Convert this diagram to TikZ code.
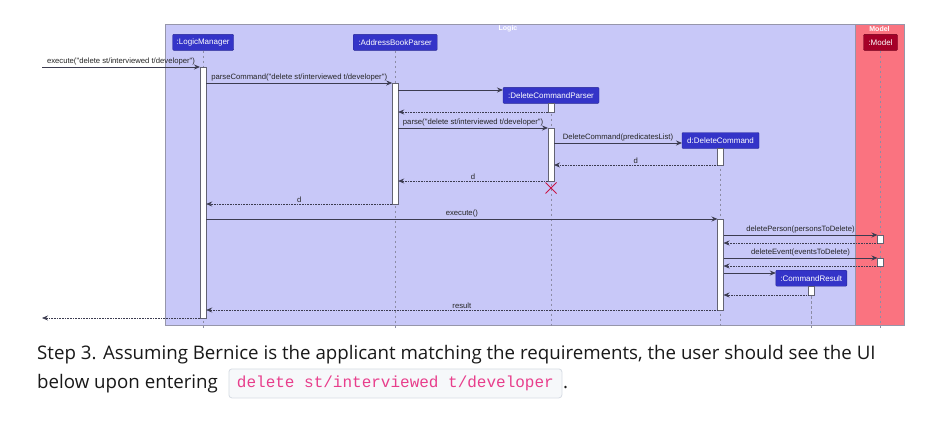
\documentclass[tikz,border=0pt]{standalone}
\usepackage{fontspec}
\setmainfont{Open Sans}
\newfontfamily\diagfont{Liberation Sans}
\newfontfamily\codefont{Liberation Mono}
\usetikzlibrary{arrows.meta}
\definecolor{logicbg}{RGB}{200,200,248}
\definecolor{modelbg}{RGB}{250,115,128}
\definecolor{frameline}{RGB}{150,150,170}
\definecolor{partblue}{RGB}{52,52,200}
\definecolor{partborder}{RGB}{40,40,150}
\definecolor{partred}{RGB}{165,0,40}
\definecolor{msgcol}{RGB}{60,60,80}
\definecolor{lifecol}{RGB}{140,140,165}
\definecolor{destroycol}{RGB}{200,20,70}
\definecolor{codecol}{RGB}{232,62,140}
\definecolor{codebg}{RGB}{246,248,250}
\definecolor{codeborder}{RGB}{215,220,228}
\tikzset{
  frame/.style={draw=frameline, line width=0.8pt, anchor=north west, inner sep=0pt},
  titletext/.style={text=white, font=\diagfont\bfseries\fontsize{7}{8}\selectfont, inner sep=0pt},
  part/.style={fill=partblue, draw=partborder, line width=0.4pt, text=white, font=\diagfont\fontsize{8}{9}\selectfont, minimum height=16pt, inner sep=1pt, rounded corners=1pt},
  life/.style={draw=lifecol, line width=0.6pt, dash pattern=on 2.5pt off 2.5pt},
  act/.style={draw=msgcol!80, fill=white, line width=0.7pt, minimum width=6pt, inner sep=0pt},
  call/.style={draw=msgcol, line width=0.8pt, -{Stealth[length=6pt,width=5pt,inset=2pt]}},
  ret/.style={draw=msgcol, line width=0.7pt, dash pattern=on 0.8pt off 0.8pt, -{Stealth[length=6pt,width=5pt,inset=2pt]}},
  lbl/.style={font=\diagfont\fontsize{7.7}{8}\selectfont, text=black!85, inner sep=1.3pt, above},
  captext/.style={anchor=base west, inner sep=0pt, font=\fontsize{18.7}{22}\selectfont, text=black!90},
}
\newcommand\actbar[4]{%
  \pgfmathsetmacro\acth{#4-#3}%
  \pgfmathsetmacro\actm{(#4+#3)/2}%
  \node[act, minimum height=\acth pt] (#1) at (#2,\actm) {};}
\newcommand\callmsg[5]{%
  \coordinate (#1s) at (#2,#4); \coordinate (#1e) at (#3,#4);
  \draw[call] (#1s) -- node[lbl]{#5} (#1e);}
\newcommand\retmsg[5]{%
  \coordinate (#1s) at (#2,#4); \coordinate (#1e) at (#3,#4);
  \draw[ret] (#1s) -- node[lbl]{#5} (#1e);}
\begin{document}
\begin{tikzpicture}[x=1pt,y=-1pt]
\useasboundingbox (0,0) rectangle (942,424);
\fill[white] (0,0) rectangle (942,424);
% frames
\node[frame, fill=logicbg, minimum width=690pt, minimum height=301pt] (logic) at (165,24) {};
\node[frame, fill=modelbg, minimum width=49pt, minimum height=301pt] (model) at (855,24) {};
\node[titletext] (logict) at (508,28.5) {Logic};
\node[titletext] (modelt) at (879.5,28.5) {Model};
% participants
\node[part, minimum width=61pt] (lm) at (203.2,42.3) {:LogicManager};
\node[part, minimum width=84pt] (abp) at (395.2,42.3) {:AddressBookParser};
\node[part, minimum width=96pt] (dcp) at (551,95.3) {:DeleteCommandParser};
\node[part, minimum width=77pt] (dc) at (720.5,140.5) {d:DeleteCommand};
\node[part, minimum width=71pt] (cr) at (811.3,278.2) {:CommandResult};
\node[part, fill=partred, draw=partred!70!black, minimum width=34pt] (mdl) at (880.5,42.3) {:Model};
% lifelines
\coordinate (lmend) at (203.2,328);
\coordinate (abpend) at (395.2,328);
\coordinate (dcpend) at (551,328);
\coordinate (dcend) at (720.5,328);
\coordinate (crend) at (811.3,328);
\coordinate (mdlend) at (880.5,328);
\draw[life] (lm.south) -- (lmend);
\draw[life] (abp.south) -- (abpend);
\draw[life] (dcp.south) -- (dcpend);
\draw[life] (dc.south) -- (dcend);
\draw[life] (cr.south) -- (crend);
\draw[life] (mdl.south) -- (mdlend);
% activations
\actbar{lma}{203.2}{67}{318}
\actbar{abpa}{395.2}{83}{204}
\actbar{dcpa}{551}{103.5}{112}
\actbar{dcpb}{551}{128}{181}
\actbar{dca}{720.5}{148.5}{165}
\actbar{dcb}{720.5}{219}{310}
\actbar{mda}{880.5}{235}{243}
\actbar{mdb}{880.5}{258}{266}
\actbar{cra}{811.3}{286.5}{295}
% messages
\callmsg{m1}{42}{200}{67}{execute("delete st/interviewed t/developer")}
\callmsg{m2}{206.2}{392.2}{83}{parseCommand("delete st/interviewed t/developer")}
\callmsg{m3}{398.2}{503}{90}{}
\retmsg{m4}{548}{398.2}{112}{}
\callmsg{m5}{398.2}{548}{128}{parse("delete st/interviewed t/developer")}
\callmsg{m6}{554}{682}{143}{DeleteCommand(predicatesList)}
\retmsg{m7}{717.5}{554}{165}{d}
\retmsg{m8}{548}{398.2}{181}{d}
\retmsg{m9}{392.2}{206.2}{204}{d}
\callmsg{m10}{206.2}{717.5}{219}{execute()}
\callmsg{m11}{723.5}{877.5}{235}{deletePerson(personsToDelete)}
\retmsg{m12}{877.5}{723.5}{243}{}
\callmsg{m13}{723.5}{877.5}{258}{deleteEvent(eventsToDelete)}
\retmsg{m14}{877.5}{723.5}{266}{}
\callmsg{m15}{723.5}{775.8}{273}{}
\retmsg{m16}{808.3}{723.5}{295}{}
\retmsg{m17}{717.5}{206.2}{310}{result}
\retmsg{m18}{200.2}{42}{318}{}
% destroy
\coordinate (xc) at (551,188);
\draw[destroycol, line width=1pt] ([shift={(-5.5,-5.5)}]xc) -- ([shift={(5.5,5.5)}]xc)
  ([shift={(-5.5,5.5)}]xc) -- ([shift={(5.5,-5.5)}]xc);
% caption
\node[captext] (cap1) at (37,359) {Step 3. Assuming Bernice is the applicant matching the requirements, the user should see the UI};
\node[captext] (cap2) at (37,388) {below upon entering};
\node[draw=codeborder, fill=codebg, rounded corners=3pt, line width=0.8pt, anchor=north west, minimum width=333pt, minimum height=29pt, inner sep=0pt] (codebox) at (228.5,368.5) {};
\node[text=codecol, font=\codefont\fontsize{16}{18}\selectfont, inner sep=0pt] (code) at (codebox.center) {delete st/interviewed t/developer};
\node[captext] (dot) at (563,388) {.};
\end{tikzpicture}
\end{document}
